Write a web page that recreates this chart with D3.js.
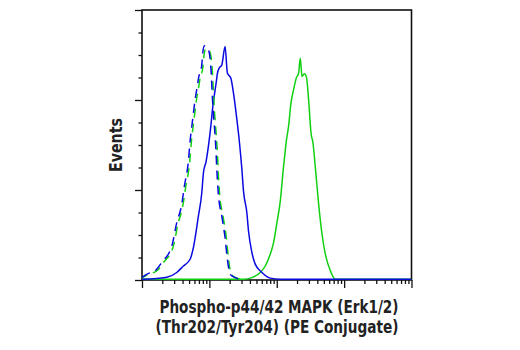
<!DOCTYPE html>
<html>
<head>
<meta charset="utf-8">
<script src="https://cdn.jsdelivr.net/npm/d3@7"></script>
<style>
  html, body { margin: 0; padding: 0; background: #fff; }
  svg { display: block; }
</style>
</head>
<body>
<svg id="chart" width="520" height="350"></svg>
<script>
// ---- data (fluorescence intensity, % of max events) ----
const blueDashedX = [1, 1.17, 1.65, 1.96, 2.77, 3.28, 3.89, 4.26, 4.88, 5.17, 5.6, 6.14, 6.74, 6.87, 7.72, 7.88, 8.44,
  9.68, 10.62, 10.99, 11.49, 12.18, 12.6, 12.9, 13.6, 15.3, 17.1, 18.5, 20.4, 24.1, 28.7];
const blueDashedY = [0.7, 1.8, 3.7, 6.2, 12.3, 21, 27.8, 34.6, 43.8, 51.2, 58.6, 66.7, 73, 74.4, 79.6, 82.7, 86.7,
  85.2, 77.1, 69.3, 61.1, 53.1, 46.3, 40.7, 31.5, 23.4, 15.4, 7.4, 1.8, 0.6, 0];

const greenDashedX = [1, 1.2, 1.72, 2.05, 2.9, 3.42, 4.05, 4.45, 5.1, 5.4, 5.85, 6.4, 7.05, 7.2, 8.05, 8.25, 8.85,
  10.1, 11.1, 11.5, 12.0, 12.7, 13.2, 13.5, 14.2, 16.0, 17.9, 19.3, 21.3, 25.0, 30];
const greenDashedY = [0.5, 1.6, 3.4, 6.0, 12.0, 20.5, 27.5, 34.2, 43.5, 51, 58.2, 66.2, 72.5, 74, 79.2, 82.3, 85.6,
  84.6, 76.8, 69.0, 61.0, 53.0, 46.2, 40.6, 31.4, 23.2, 15.2, 7.2, 1.7, 0.5, 0];

const blueSolidX = [1, 1.65, 2.33, 3.28, 4.11, 5.17, 5.79, 6.87, 7.72, 8.16, 8.95, 9.68, 10.5, 11.25, 12.6, 13.2, 13.97,
  15.3, 17.1, 18.5, 20.8, 22.8, 25.6, 28.0, 30.4, 32.1, 36.0, 38.1, 42.8, 47.9, 60.3, 80, 112.8, 1000, 10000];
const blueSolidY = [0, 0.3, 0.7, 2.5, 4.9, 7.4, 11.7, 23.4, 32.1, 39.5, 43.8, 49.4, 56.8, 64.2, 72.9, 76.6, 78.4,
  79.6, 86.4, 76.6, 74.7, 69.1, 59.3, 50.6, 40.7, 32.7, 24.7, 17.9, 9.9, 5.6, 2.5, 0.4, 0, 0, 0];

const greenSolidX = [1, 31.8, 42.8, 56.9, 67.5, 80, 89.7, 100.7, 112.8, 126.3, 129.4, 138.5, 149.7, 162.5, 177.8, 195, 211,
  223.6, 237, 256.5, 274.6, 297, 322.7, 345, 373.9, 418.8, 470, 526, 625, 741, 10000];
const greenSolidY = [0, 0, 0.6, 2.5, 4.9, 9.3, 13.6, 21, 29, 42, 44.4, 51.2, 56.8, 65.4, 70.4, 74.7, 76.6,
  82.1, 75.3, 76.3, 75.3, 66.7, 54.3, 50.6, 41.5, 27.8, 16.7, 9.3, 3.1, 0, 0];

const xDomain = [1, 10000];
const yDomain = [0, 100];
const yMajorTicks = [0, 100 / 3, 200 / 3, 100];
const yMinorTicks = [1, 2, 3, 5, 6, 7, 9, 10, 11].map(i => i * 100 / 12);

const xTitleLines = ["Phospho-p44/42 MAPK (Erk1/2)", "(Thr202/Tyr204) (PE Conjugate)"];
const yTitle = "Events";

// ---- layout ----
const mLeft = 142, mRight = 411.5, mTop = 10, mBottom = 280;
const svg = d3.select("#chart");
const x = d3.scaleLog().domain(xDomain).range([mLeft, mRight]);
const y = d3.scaleLinear().domain(yDomain).range([mBottom - 0.8, mTop]);
const yAx = d3.scaleLinear().domain(yDomain).range([mBottom, mTop]);

const axisColor = "#111";
const font = "'DejaVu Sans Condensed', 'Liberation Sans Narrow', 'Arial Narrow', sans-serif";

// x ticks (log decades with minors)
const xMajor = [1, 10, 100, 1000, 10000];
const xMinor = [];
for (let d = 1; d < 10000; d *= 10) for (let k = 2; k <= 9; k++) xMinor.push(d * k);

const xAxisMajor = d3.axisBottom(x).tickValues(xMajor).tickSize(8).tickFormat("");
const xAxisMinor = d3.axisBottom(x).tickValues(xMinor).tickSize(4).tickFormat("");
const yAxisMajor = d3.axisLeft(yAx).tickValues(yMajorTicks).tickSize(7).tickFormat("");
const yAxisMinor = d3.axisLeft(yAx).tickValues(yMinorTicks).tickSize(3.5).tickFormat("");

function styleAxis(g) {
  g.select(".domain").remove();
  g.selectAll(".tick line").attr("stroke", axisColor).attr("stroke-width", 1.3);
}
svg.append("g").attr("transform", `translate(0,${mBottom})`).call(xAxisMajor).call(styleAxis);
svg.append("g").attr("transform", `translate(0,${mBottom})`).call(xAxisMinor).call(styleAxis);
svg.append("g").attr("transform", `translate(${mLeft},0)`).call(yAxisMajor).call(styleAxis);
svg.append("g").attr("transform", `translate(${mLeft},0)`).call(yAxisMinor).call(styleAxis);

// frame
svg.append("rect")
  .attr("x", mLeft).attr("y", mTop)
  .attr("width", mRight - mLeft).attr("height", mBottom - mTop)
  .attr("fill", "none").attr("stroke", axisColor).attr("stroke-width", 1.6);

// ---- curves ----
const line = d3.line().x(d => x(d[0])).y(d => y(d[1])).curve(d3.curveMonotoneX);
const zip = (xs, ys) => xs.map((v, i) => [v, ys[i]]);

const blue = "#0a0ae0";
const green = "#10d010";

const series = [
  { data: zip(greenSolidX, greenSolidY), color: green, dash: null },
  { data: zip(blueSolidX, blueSolidY), color: blue, dash: null },
  { data: zip(greenDashedX, greenDashedY), color: green, dash: "9,6", offset: 3 },
  { data: zip(blueDashedX, blueDashedY), color: blue, dash: "9,6", offset: 0 }
];

svg.append("defs").append("clipPath").attr("id", "clip")
  .append("rect").attr("x", mLeft).attr("y", mTop).attr("width", mRight - mLeft).attr("height", mBottom - mTop);

const plot = svg.append("g").attr("clip-path", "url(#clip)");
series.forEach(s => {
  plot.append("path")
    .attr("d", line(s.data))
    .attr("fill", "none")
    .attr("stroke", s.color)
    .attr("stroke-width", 1.5)
    .attr("stroke-linejoin", "round")
    .attr("stroke-dasharray", s.dash)
    .attr("stroke-dashoffset", s.offset || 0);
});

// ---- titles ----
svg.append("text")
  .attr("transform", `translate(122,145) rotate(-90)`)
  .attr("text-anchor", "middle")
  .attr("font-family", font).attr("font-weight", "bold").attr("font-size", 18)
  .attr("fill", "#222")
  .attr("textLength", 54).attr("lengthAdjust", "spacingAndGlyphs")
  .text(yTitle);

svg.append("text")
  .attr("x", 279).attr("y", 312.5)
  .attr("text-anchor", "middle")
  .attr("font-family", font).attr("font-weight", "bold").attr("font-size", 18.5)
  .attr("fill", "#222")
  .attr("textLength", 239).attr("lengthAdjust", "spacingAndGlyphs")
  .text(xTitleLines[0]);
svg.append("text")
  .attr("x", 277).attr("y", 333)
  .attr("text-anchor", "middle")
  .attr("font-family", font).attr("font-weight", "bold").attr("font-size", 18.5)
  .attr("fill", "#222")
  .attr("textLength", 243).attr("lengthAdjust", "spacingAndGlyphs")
  .text(xTitleLines[1]);
</script>
</body>
</html>
